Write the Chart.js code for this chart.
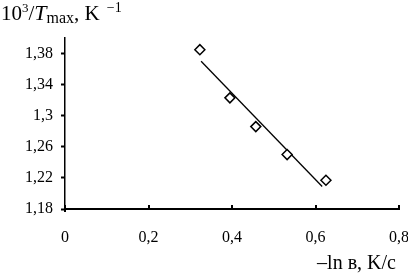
<!DOCTYPE html>
<html>
<head>
<meta charset="utf-8">
<script src="https://cdn.jsdelivr.net/npm/chart.js@4"></script>
<style>
  html, body { margin: 0; padding: 0; background: #fff; }
  #wrap { width: 408px; height: 278px; }
</style>
</head>
<body>
<div id="wrap"><canvas id="chart" width="408" height="278"></canvas></div>
<script>
// measured points
const lnRate = [0.323, 0.395, 0.457, 0.532, 0.625];
const invTmax = [1.385, 1.323, 1.286, 1.250, 1.217];
// fitted line ends
const fitX = [0.326, 0.616];
const fitY = [1.370, 1.209];
const yTicks = [1.18, 1.22, 1.26, 1.30, 1.34, 1.38];
const xTicks = [0, 0.2, 0.4, 0.6, 0.8];

const serif = '"Liberation Serif", "DejaVu Serif", serif';

function fmt(v) {
    return String(Math.round(v * 100) / 100).replace('.', ',');
}

// axis titles drawn in pieces (super/subscripts)
const titles = {
    id: 'titles',
    afterDraw(chart) {
        const ctx = chart.ctx;
        ctx.save();
        ctx.fillStyle = '#000';
        ctx.textBaseline = 'alphabetic';
        let x = 1;
        const base = 20;
        const parts = [
            ['10', '21px', 0, ''],
            ['3', '13px', -8, ''],
            ['/', '21px', 0, ''],
            ['T', '22px', 0, 'italic '],
            ['max', '16px', 3, ''],
            [', K', '21px', 0, ''],
            ['  \u22121', '14px', -8, '']
        ];
        parts.forEach(p => {
            ctx.font = p[3] + p[1] + ' ' + serif;
            ctx.fillText(p[0], x, base + p[2]);
            x += ctx.measureText(p[0]).width;
        });
        ctx.font = '20px ' + serif;
        ctx.textAlign = 'right';
        ctx.fillText('\u2013ln в, K/c', 396, 269);
        ctx.restore();
    }
};

// inward tick marks on the x axis
const xMarks = {
    id: 'xMarks',
    afterDraw(chart) {
        const sx = chart.scales.x;
        const ctx = chart.ctx;
        const y0 = chart.chartArea.bottom;
        ctx.save();
        ctx.strokeStyle = '#000';
        ctx.lineWidth = 2;
        xTicks.forEach(v => {
            const px = Math.round(sx.getPixelForValue(v));
            ctx.beginPath();
            ctx.moveTo(px, y0 - 4);
            ctx.lineTo(px, y0 + (v === 0 ? 3 : 0));
            ctx.stroke();
        });
        ctx.restore();
    }
};

new Chart(document.getElementById('chart'), {
    type: 'scatter',
    data: {
        datasets: [{
            data: lnRate.map((v, i) => ({ x: v, y: invTmax[i] })),
            pointStyle: 'rectRot',
            pointRadius: 5,
            pointBorderWidth: 1.5,
            pointBackgroundColor: '#fff',
            pointBorderColor: '#000',
            showLine: false,
            order: 1
        }, {
            data: fitX.map((v, i) => ({ x: v, y: fitY[i] })),
            showLine: true,
            borderColor: '#000',
            borderWidth: 1.3,
            pointRadius: 0,
            order: 2
        }]
    },
    options: {
        responsive: false,
        animation: false,
        layout: { padding: { top: 38, right: 9, left: 0, bottom: 0 } },
        plugins: { legend: { display: false }, tooltip: { enabled: false } },
        scales: {
            x: {
                type: 'linear',
                min: 0,
                max: 0.8,
                afterBuildTicks: s => { s.ticks = xTicks.map(v => ({ value: v })); },
                afterFit: s => { s.height = 69; s.paddingLeft = 0; s.paddingRight = 0; },
                grid: { display: true, drawOnChartArea: false, drawTicks: false },
                border: { color: '#000', width: 2 },
                ticks: {
                    padding: 19,
                    color: '#000',
                    font: { family: serif, size: 16 },
                    maxRotation: 0,
                    callback: v => fmt(v)
                }
            },
            y: {
                type: 'linear',
                min: 1.18,
                max: 1.40,
                afterBuildTicks: s => { s.ticks = yTicks.map(v => ({ value: v })); },
                afterFit: s => { s.width = 65; s.paddingTop = 0; s.paddingBottom = 0; },
                grid: { drawOnChartArea: false, drawTicks: true, tickLength: 4, color: '#000', tickWidth: 2 },
                border: { color: '#000', width: 1.5 },
                ticks: {
                    padding: 8,
                    color: '#000',
                    font: { family: serif, size: 16 },
                    callback: v => fmt(v)
                }
            }
        }
    },
    plugins: [titles, xMarks]
});
</script>
</body>
</html>
